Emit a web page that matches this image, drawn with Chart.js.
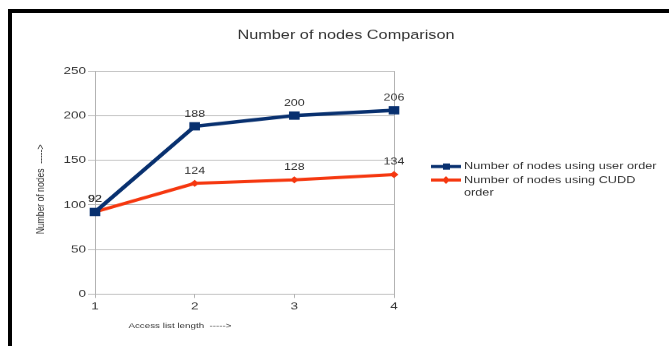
<!DOCTYPE html>
<html>
<head>
<meta charset="utf-8">
<script src="https://cdn.jsdelivr.net/npm/chart.js@4"></script>
<style>
  html, body { margin: 0; padding: 0; background: #fff; overflow: hidden; width: 669px; height: 346px; }
  /* the chart is laid out at 444px tall and squeezed to 346px */
  #stage { position: absolute; left: 0; top: 0; width: 669px; height: 444px;
           transform: scaleY(0.779279); transform-origin: 0 0; }
  #frame { position: absolute; left: 8px; top: 9px; width: 680px; height: 360px;
           border-top: 4px solid #000; border-left: 4px solid #000; pointer-events: none; }
</style>
</head>
<body>
<div id="stage"><canvas id="chart"></canvas></div>
<div id="frame"></div>
<script>
// ---- data ----
const chartTitle = 'Number of nodes Comparison';
const xAxisTitle = 'Access list length  ----->';
const yAxisTitle = 'Number of nodes  ----->';
const accessLengths = ['1', '2', '3', '4'];
const userOrderNodes = [92, 188, 200, 206];
const cuddOrderNodes = [92, 124, 128, 134];
const userOrderName = ['Number of nodes using user order'];
const cuddOrderName = ['Number of nodes using CUDD', 'order'];
const yMin = 0, yMax = 250, yStep = 50;

const BLUE = '#08306f';
const RED = '#f5370f';
const GRID = '#b3b3b3';
const INK = '#333';
const FAMILY = '"Liberation Sans", Arial, sans-serif';

Chart.defaults.font.family = FAMILY;

// titles, value labels and the side legend
const captions = {
  id: 'captions',
  afterDatasetsDraw(chart) {
    const ctx = chart.ctx;
    ctx.save();
    ctx.fillStyle = INK;
    ctx.textAlign = 'center';
    ctx.textBaseline = 'middle';

    ctx.font = '16.3px ' + FAMILY;
    ctx.fillText(chartTitle, 346, 46);

    // value above every point
    ctx.font = '12.5px ' + FAMILY;
    chart.data.datasets.forEach((ds, i) => {
      chart.getDatasetMeta(i).data.forEach((pt, j) => {
        ctx.fillText(String(ds.data[j]), pt.x, pt.y - 16);
      });
    });

    // axis titles
    ctx.font = '9.8px ' + FAMILY;
    ctx.fillText(xAxisTitle, 180, 418);
    ctx.save();
    ctx.translate(41, 243);
    ctx.rotate(-Math.PI / 2);
    ctx.font = '11px ' + FAMILY;
    ctx.fillText(yAxisTitle, 0, 0);
    ctx.restore();

    // legend
    const rows = [
      { lines: userOrderName, color: BLUE, shape: 'square', y: 213.7 },
      { lines: cuddOrderName, color: RED, shape: 'diamond', y: 231 }
    ];
    ctx.textAlign = 'left';
    ctx.font = '12.7px ' + FAMILY;
    rows.forEach(r => {
      ctx.strokeStyle = r.color;
      ctx.fillStyle = r.color;
      ctx.lineWidth = 4;
      ctx.beginPath();
      ctx.moveTo(431, r.y);
      ctx.lineTo(461, r.y);
      ctx.stroke();
      ctx.beginPath();
      if (r.shape === 'square') {
        ctx.rect(443, r.y - 4, 7, 8);
      } else {
        ctx.moveTo(446, r.y - 5);
        ctx.lineTo(450, r.y);
        ctx.lineTo(446, r.y + 5);
        ctx.lineTo(442, r.y);
        ctx.closePath();
      }
      ctx.fill();
      ctx.fillStyle = INK;
      r.lines.forEach((t, k) => ctx.fillText(t, 464, r.y + k * 16.5));
    });
    ctx.restore();
  }
};

new Chart(document.getElementById('chart'), {
  type: 'line',
  data: {
    labels: accessLengths,
    datasets: [
      {
        label: userOrderName.join(' '),
        data: userOrderNodes,
        borderColor: BLUE,
        backgroundColor: BLUE,
        borderWidth: 4.5,
        pointStyle: 'rect',
        pointRadius: 7.5,
        pointBorderWidth: 0,
        tension: 0,
        clip: false
      },
      {
        label: cuddOrderName.join(' '),
        data: cuddOrderNodes,
        borderColor: RED,
        backgroundColor: RED,
        borderWidth: 4,
        pointStyle: 'rectRot',
        pointRadius: 4.5,
        pointBorderWidth: 0,
        tension: 0,
        clip: false
      }
    ]
  },
  options: {
    responsive: true,
    maintainAspectRatio: false,
    animation: false,
    devicePixelRatio: 1,
    layout: { padding: { top: 91.1, right: 275, left: 0, bottom: 0 } },
    plugins: {
      legend: { display: false },
      title: { display: false },
      tooltip: { enabled: false }
    },
    scales: {
      x: {
        type: 'category',
        offset: false,
        grid: {
          color: c => (c.index === 0 || c.index === accessLengths.length - 1) ? GRID : 'rgba(0,0,0,0)',
          tickColor: GRID,
          tickLength: 5,
          lineWidth: 1
        },
        border: { color: GRID },
        ticks: { color: INK, font: { size: 13.5 }, padding: 3, maxRotation: 0 },
        afterFit: s => { s.height = 66.7; }
      },
      y: {
        min: yMin,
        max: yMax,
        grid: { color: GRID, tickColor: GRID, tickLength: 7, lineWidth: 1 },
        border: { color: GRID },
        ticks: { stepSize: yStep, color: INK, font: { size: 13.5 }, padding: 2 },
        afterFit: s => { s.width = 95; }
      }
    }
  },
  plugins: [captions]
});
</script>
</body>
</html>
